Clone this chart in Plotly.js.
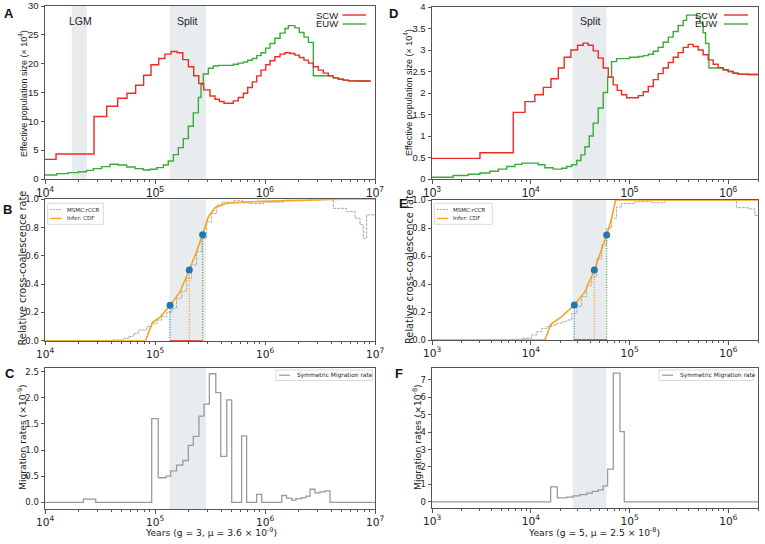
<!DOCTYPE html>
<html><head><meta charset="utf-8">
<script src="https://cdn.plot.ly/plotly-3.0.1.min.js"></script>
<style>html,body{margin:0;padding:0;background:#fff}#chart{width:765px;height:544px}</style>
</head><body><div id="chart"></div>
<script>
// ---------- Panel A: Ne (x10^4), g=3 ----------
const scwA_t = [1.0e4,1.26e4,2.79e4,3.64e4,4.58e4,5.56e4,6.67e4,7.88e4,9.2e4,1.08e5,1.23e5,1.40e5,1.59e5,1.79e5,2.01e5,2.25e5,2.50e5,2.77e5,3.16e5,3.51e5,3.85e5,4.24e5,5.15e5,5.72e5,6.36e5,6.96e5,7.67e5,8.40e5,9.2e5,1.014e6,1.11e6,1.23e6,1.37e6,1.52e6,1.69e6,1.87e6,2.05e6,2.26e6,2.48e6,2.75e6,3.05e6,3.39e6,3.76e6,4.18e6,4.64e6,5.15e6,5.72e6,6.81e6,9.14e6];
const scwA_n = [3.4,4.34,10.83,12.62,14.0,14.88,16.27,18.0,19.8,20.9,21.66,22.1,21.9,20.7,19.46,17.9,16.56,15.46,14.4,13.84,13.43,13.14,13.55,14.13,14.88,15.87,16.85,17.89,18.88,19.8,20.5,21.19,21.66,21.89,21.77,21.48,21.08,20.61,20.09,19.46,18.88,18.36,17.89,17.54,17.31,17.14,17.02,17.0,17.0];
const euwA_t = [1.0e4,1.28e4,1.63e4,2.01e4,2.39e4,2.75e4,3.27e4,3.90e4,4.64e4,5.53e4,6.58e4,7.83e4,9.0e4,1.04e5,1.19e5,1.32e5,1.47e5,1.63e5,1.81e5,2.01e5,2.23e5,2.48e5,2.62e5,2.75e5,3.05e5,3.39e5,3.77e5,5.15e5,5.72e5,6.36e5,6.96e5,7.67e5,8.40e5,9.2e5,1.014e6,1.11e6,1.23e6,1.37e6,1.52e6,1.63e6,1.87e6,2.05e6,2.26e6,2.48e6,2.75e6,3.76e6,4.18e6,4.64e6,5.15e6,5.72e6,6.81e6,9.14e6];
const euwA_n = [0.7,0.93,1.1,1.27,1.5,1.8,2.14,2.55,2.43,2.08,1.8,1.56,1.68,1.97,2.43,3.13,4.23,5.44,7.0,9.15,11.46,14.13,16.4,18.2,19.2,19.6,19.7,19.9,20.1,20.3,20.6,20.9,21.4,21.9,22.7,23.5,24.4,25.3,26.1,26.6,26.2,25.4,24.6,23.7,17.9,17.89,17.54,17.31,17.14,17.02,17.0,17.0];
const lgmA = [1.75e4, 2.4e4];
const splitA = [1.35e5, 2.9e5];

// ---------- Panel D: Ne (x10^4), g=5 ----------
const scwD_t = [1.0e3,3.06e3,6.65e3,8.74e3,1.10e4,1.34e4,1.60e4,1.90e4,2.18e4,2.55e4,2.98e4,3.40e4,3.82e4,4.29e4,4.82e4,5.42e4,6.09e4,6.84e4,7.51e4,8.32e4,9.35e4,1.23e5,1.38e5,1.55e5,1.74e5,1.95e5,2.19e5,2.47e5,2.77e5,3.11e5,3.50e5,3.93e5,4.41e5,4.96e5,5.57e5,6.26e5,7.03e5,7.90e5,8.88e5,9.98e5,1.12e6,1.26e6,1.59e6,2.0e6];
const scwD_n = [0.48,0.61,1.55,1.8,1.96,2.13,2.33,2.58,2.83,3.0,3.11,3.16,3.11,2.98,2.81,2.58,2.37,2.19,2.06,1.96,1.89,1.94,2.03,2.15,2.31,2.45,2.58,2.71,2.83,2.94,3.06,3.13,3.08,3.0,2.89,2.77,2.67,2.59,2.54,2.5,2.46,2.44,2.43,2.43];
const euwD_t = [1.0e3,1.64e3,2.33e3,3.06e3,3.86e3,4.69e3,5.70e3,6.92e3,8.09e3,1.19e4,1.39e4,1.69e4,2.06e4,2.31e4,2.59e4,2.92e4,3.22e4,3.54e4,3.91e4,4.29e4,4.82e4,5.42e4,6.0e4,6.58e4,7.39e4,1.0e5,1.23e5,1.38e5,1.55e5,1.74e5,1.95e5,2.19e5,2.47e5,2.77e5,3.11e5,3.50e5,3.78e5,4.78e5,5.16e5,5.57e5,5.89e5,6.37e5,8.88e5,9.98e5,1.12e6,1.26e6,1.59e6,2.0e6];
const euwD_n = [0.04,0.08,0.11,0.14,0.18,0.23,0.29,0.34,0.37,0.33,0.26,0.23,0.25,0.29,0.33,0.43,0.56,0.75,1.0,1.3,1.65,2.01,2.37,2.73,2.8,2.83,2.85,2.87,2.9,2.97,3.06,3.18,3.3,3.43,3.57,3.69,3.81,3.74,3.63,3.4,3.15,2.58,2.54,2.5,2.46,2.44,2.43,2.43];
const splitD = [2.65e4, 5.86e4];

// ---------- Panel B: rCCR ----------
const rccrB_t = [1e4,3.5e4,4.18e4,5.15e4,5.72e4,6.36e4,7.05e4,8.4e4,9.33e4,1.04e5,1.15e5,1.28e5,1.42e5,1.57e5,1.75e5,1.94e5,2.15e5,2.39e5,2.66e5,2.95e5,3.27e5,3.64e5,4.04e5,5.15e5,6.3e5,7.31e5,9.66e5,1.47e6,2.5e6,4.18e6,5.53e6,6.58e6,7.3e6,7.84e6,8.4e6,1e7];
const rccrB_v = [0,0.002,0.005,0.015,0.03,0.05,0.075,0.1,0.12,0.146,0.17,0.2,0.23,0.3,0.35,0.44,0.535,0.63,0.724,0.84,0.9,0.96,0.98,0.99,0.975,0.97,0.98,0.995,1.0,0.936,0.913,0.866,0.82,0.724,0.89,0.89];
const cdfB_t = [1e4,8.2e4,9.5e4,1.11e5,1.37e5,1.69e5,2.05e5,2.39e5,2.71e5,3.06e5,3.51e5,4.49e5,7.3e5,2.08e6,5e6,1e7];
const cdfB_v = [0,0,0.13,0.165,0.248,0.347,0.5,0.63,0.752,0.877,0.94,0.972,0.983,0.995,1.0,1.0];
const quantB_t = [1.37e5,2.05e5,2.71e5];
const quantLevels = [0.25,0.5,0.75];

// ---------- Panel E: rCCR ----------
const rccrE_t = [1e3,6.4e3,8.1e3,1.02e4,1.15e4,1.29e4,1.45e4,1.63e4,1.83e4,2.06e4,2.31e4,2.6e4,2.92e4,3.28e4,3.68e4,4.14e4,4.65e4,5.23e4,5.87e4,6.59e4,7.4e4,8.31e4,1.14e5,1.67e5,2.28e5,1.21e6,1.59e6,1.86e6,2e6];
const rccrE_v = [0,0.005,0.012,0.036,0.06,0.083,0.095,0.107,0.12,0.13,0.143,0.19,0.24,0.31,0.39,0.45,0.58,0.68,0.8,0.87,0.95,0.976,0.988,0.98,1.0,0.945,0.936,0.89,0.89];
const cdfE_t = [1e3,1.39e4,1.6e4,2.06e4,2.76e4,3.54e4,4.4e4,5.14e4,5.87e4,6.59e4,7.23e4,2e6];
const cdfE_v = [0,0,0.112,0.167,0.25,0.345,0.5,0.63,0.75,0.87,1.0,1.0];
const quantE_t = [2.76e4,4.4e4,5.87e4];

// ---------- Panel C / F: migration ----------
const migC_t = [1e4,2.23e4,2.89e4,9.33e4,1.07e5,1.26e5,1.39e5,1.57e5,1.79e5,2.01e5,2.23e5,2.51e5,2.79e5,3.12e5,3.57e5,3.96e5,4.49e5,4.98e5,6.13e5,6.81e5,8.39e5,9.33e5,1.42e6,1.57e6,1.75e6,1.91e6,2.15e6,2.36e6,2.57e6,2.85e6,3.16e6,3.51e6,3.9e6,1e7];
const migC_m = [0,0.06,0,1.6,0.47,0.5,0.6,0.71,0.8,1.09,1.26,1.65,1.88,2.46,2.1,0.88,1.96,0,1.27,0,0.15,0,0.13,0.08,0.04,0.07,0.09,0.12,0.25,0.18,0.2,0.22,0,0];
const migF_t = [1e3,1.59e4,1.86e4,2.31e4,2.69e4,3.15e4,3.68e4,4.2e4,4.82e4,5.42e4,6.0e4,6.84e4,8.0e4,8.85e4,2e6];
const migF_m = [0,0.86,0.23,0.27,0.35,0.42,0.5,0.6,0.69,0.92,1.88,7.38,4.03,0,0];

// ---------- styling ----------
const W = 765, H = 544;
const px = v => v / W, py = v => 1 - v / H;
const RED = '#ee2b24', GREEN = '#3aab3a', BAND = '#e9ecef', GRAYR = '#a9a9a9', ORANGE = '#f4a51c', MIG = '#9a9a9a';
const ARIAL = 'Liberation Sans, Arial, sans-serif';
const DEJA = 'DejaVu Sans, sans-serif';
const FRAME = '#555';

const traces = [];
function add(t) { traces.push(Object.assign({type: 'scatter', mode: 'lines', hoverinfo: 'skip', showlegend: false}, t)); }
function step(x, y, color, width, xa, ya, dash) { add({x, y, xaxis: xa, yaxis: ya, line: {shape: 'hv', color, width, dash: dash || 'solid'}}); }

// A
step(euwA_t, euwA_n, GREEN, 1.4, 'x', 'y');
step(scwA_t, scwA_n, RED, 1.4, 'x', 'y');
// D
step(euwD_t, euwD_n, GREEN, 1.4, 'x4', 'y4');
step(scwD_t, scwD_n, RED, 1.4, 'x4', 'y4');

// B / E
function rccrPanel(rt, rv, ct, cv, qt, xa, ya) {
  step(rt, rv, GRAYR, 1, xa, ya, '3px,1px');
  add({x: ct, y: cv, xaxis: xa, yaxis: ya, line: {color: ORANGE, width: 1.6}});
  const qcol = ['#1f77b4', '#ff7f0e', '#2ca02c'];
  qt.forEach((t, i) => add({x: [t, t], y: [0, quantLevels[i]], xaxis: xa, yaxis: ya, line: {color: qcol[i], width: 1.1, dash: '1px,1.6px'}}));
  add({x: [qt[0], qt[2]], y: [0, 0], xaxis: xa, yaxis: ya, line: {color: '#d62728', width: 1.6}});
  add({x: qt, y: quantLevels, xaxis: xa, yaxis: ya, mode: 'markers', marker: {color: '#1f77b4', size: 7}});
}
rccrPanel(rccrB_t, rccrB_v, cdfB_t, cdfB_v, quantB_t, 'x2', 'y2');
rccrPanel(rccrE_t, rccrE_v, cdfE_t, cdfE_v, quantE_t, 'x5', 'y5');

// C / F
step(migC_t, migC_m, MIG, 1.3, 'x3', 'y3');
step(migF_t, migF_m, MIG, 1.3, 'x6', 'y6');

// ---------- axes ----------
function baseAxis(font, size) {
  return {showline: true, mirror: true, linecolor: FRAME, linewidth: 1, ticks: 'outside', ticklen: 3.5, tickwidth: 1,
    tickcolor: FRAME, zeroline: false, showgrid: false, tickfont: {family: font, size: size, color: '#222'}, fixedrange: true};
}
function logX(domain, range, anchor, font, size) {
  return Object.assign(baseAxis(font, size), {type: 'log', domain, range, anchor, dtick: 1, exponentformat: 'power',
    minor: {ticks: 'outside', ticklen: 2, tickcolor: FRAME, dtick: 'D1', showgrid: false}});
}
function linY(domain, range, anchor, font, size, extra) {
  return Object.assign(baseAxis(font, size), {domain, range, anchor}, extra || {});
}
const LX = [px(45), px(375)], RX = [px(432), px(758)];
const layout = {
  width: W, height: H, margin: {l: 0, r: 0, t: 0, b: 0}, showlegend: false,
  paper_bgcolor: '#fff', plot_bgcolor: '#fff',
  xaxis: logX(LX, [4, 7], 'y', ARIAL, 9.5),
  yaxis: linY([py(179), py(6)], [0, 30], 'x', ARIAL, 9.5, {dtick: 5}),
  xaxis2: logX(LX, [4, 7], 'y2', DEJA, 8.5),
  yaxis2: linY([py(340.7), py(199.3)], [0, 1], 'x2', DEJA, 8.5, {dtick: 0.2, tickformat: '.1f'}),
  xaxis3: logX(LX, [4, 7], 'y3', DEJA, 8.5),
  yaxis3: linY([py(509), py(368)], [-0.128, 2.57], 'x3', DEJA, 8.5, {tickvals: [0, 0.5, 1, 1.5, 2, 2.5], tickformat: '.1f'}),
  xaxis4: logX(RX, [3, Math.log10(2e6)], 'y4', ARIAL, 9.5),
  yaxis4: linY([py(179), py(7)], [0, 4], 'x4', ARIAL, 9.5, {dtick: 0.5}),
  xaxis5: logX(RX, [3, Math.log10(2e6)], 'y5', DEJA, 8.5),
  yaxis5: linY([py(340), py(200)], [0, 1], 'x5', DEJA, 8.5, {dtick: 0.2, tickformat: '.1f'}),
  xaxis6: logX(RX, [3, Math.log10(2e6)], 'y6', DEJA, 8.5),
  yaxis6: linY([py(508), py(368)], [-0.35, 7.67], 'x6', DEJA, 8.5, {dtick: 1}),
  shapes: [], annotations: []
};

// shaded bands
function band(b, xa, ya) {
  layout.shapes.push({type: 'rect', layer: 'below', xref: xa, yref: ya + ' domain', x0: b[0], x1: b[1], y0: 0, y1: 1,
    fillcolor: BAND, line: {width: 0}});
}
band(lgmA, 'x', 'y'); band(splitA, 'x', 'y'); band(splitA, 'x2', 'y2'); band(splitA, 'x3', 'y3');
band(splitD, 'x4', 'y4'); band(splitD, 'x5', 'y5'); band(splitD, 'x6', 'y6');

// text helpers
function ann(text, x, y, o) {
  layout.annotations.push(Object.assign({text, x: px(x), y: py(y), xref: 'paper', yref: 'paper', showarrow: false,
    xanchor: 'center', yanchor: 'middle', font: {family: ARIAL, size: 10, color: '#222'}}, o || {}));
}
function lineSeg(x0, x1, y, color, width, dash) {
  layout.shapes.push({type: 'line', xref: 'paper', yref: 'paper', x0: px(x0), x1: px(x1), y0: py(y), y1: py(y),
    line: {color, width, dash: dash || 'solid'}});
}
function box(x0, x1, y0, y1) {
  layout.shapes.push({type: 'rect', xref: 'paper', yref: 'paper', x0: px(x0), x1: px(x1), y0: py(y1), y1: py(y0),
    fillcolor: '#fff', line: {color: '#d0d0d0', width: 0.8}});
}

// panel letters
const bold = () => ({family: ARIAL, size: 13, color: '#111'});
ann('<b>A</b>', 9, 13, {font: bold()});
ann('<b>B</b>', 8, 209, {font: bold()});
ann('<b>C</b>', 9.5, 373, {font: bold()});
ann('<b>D</b>', 394, 13, {font: bold()});
ann('<b>E</b>', 403, 203, {font: bold()});
ann('<b>F</b>', 399, 373, {font: bold()});

// band labels
ann('LGM', 80, 20.5, {font: {family: ARIAL, size: 10.5, color: '#222'}});
ann('Split', 187, 20.5, {font: {family: ARIAL, size: 10.5, color: '#222'}});
ann('Split', 590, 20.5, {font: {family: ARIAL, size: 10.5, color: '#222'}});

// legends A / D (text before line)
[[340, 342.5, 366], [719, 724, 748]].forEach(([tx, l0, l1]) => {
  ann('SCW', tx, 15, {xanchor: 'right', font: {family: ARIAL, size: 9.5, color: '#222'}});
  ann('EUW', tx, 24, {xanchor: 'right', font: {family: ARIAL, size: 9.5, color: '#222'}});
  lineSeg(l0, l1, 15, RED, 1.4);
  lineSeg(l0, l1, 24, GREEN, 1.4);
});

// legends B / E
[[47.7, 103.3], [434.3, 492.3]].forEach(([b0, b1]) => {
  box(b0, b1, 203.3, 224.3);
  lineSeg(b0 + 2.5, b0 + 14, 209.5, GRAYR, 1, '2px,1px');
  lineSeg(b0 + 2.5, b0 + 14, 218.5, ORANGE, 1.4);
  ann('MSMC:rCCR', b0 + 17, 209.5, {xanchor: 'left', font: {family: DEJA, size: 5.5, color: '#222'}});
  ann('Infer: CDF', b0 + 17, 218.5, {xanchor: 'left', font: {family: DEJA, size: 5.5, color: '#222'}});
});

// legends C / F
[[276, 372.7], [659, 753.3]].forEach(([b0, b1]) => {
  box(b0, b1, 370, 380.5);
  lineSeg(b0 + 3, b0 + 14, 375.2, MIG, 1.2);
  ann('Symmetric Migration rate', b0 + 19, 375.2, {xanchor: 'left', font: {family: DEJA, size: 5.9, color: '#222'}});
});

// axis titles
ann('Effective population size (× 10<sup>4</sup>)', 23, 94, {textangle: -90, font: {family: ARIAL, size: 9, color: '#222'}});
ann('Effective population size (× 10<sup>4</sup>)', 408, 93, {textangle: -90, font: {family: ARIAL, size: 9, color: '#222'}});
ann('Relative cross-coalescence rate', 21.5, 268, {textangle: -90, font: {family: DEJA, size: 9.8, color: '#222'}});
ann('Relative cross-coalescence rate', 410, 267, {textangle: -90, font: {family: DEJA, size: 9.8, color: '#222'}});
ann('Migration rates (×10<sup>-9</sup>)', 21.5, 437.5, {textangle: -90, font: {family: DEJA, size: 9.2, color: '#222'}});
ann('Migration rates (×10<sup>-8</sup>)', 416.5, 436.5, {textangle: -90, font: {family: DEJA, size: 9.2, color: '#222'}});
ann('Years (g = 3, μ = 3.6 × 10<sup>-9</sup>)', 211, 531.5, {font: {family: DEJA, size: 9.2, color: '#222'}});
ann('Years (g = 5, μ = 2.5 × 10<sup>-8</sup>)', 594, 531.5, {font: {family: DEJA, size: 9.2, color: '#222'}});

Plotly.newPlot('chart', traces, layout, {staticPlot: true, displayModeBar: false});
</script></body></html>
